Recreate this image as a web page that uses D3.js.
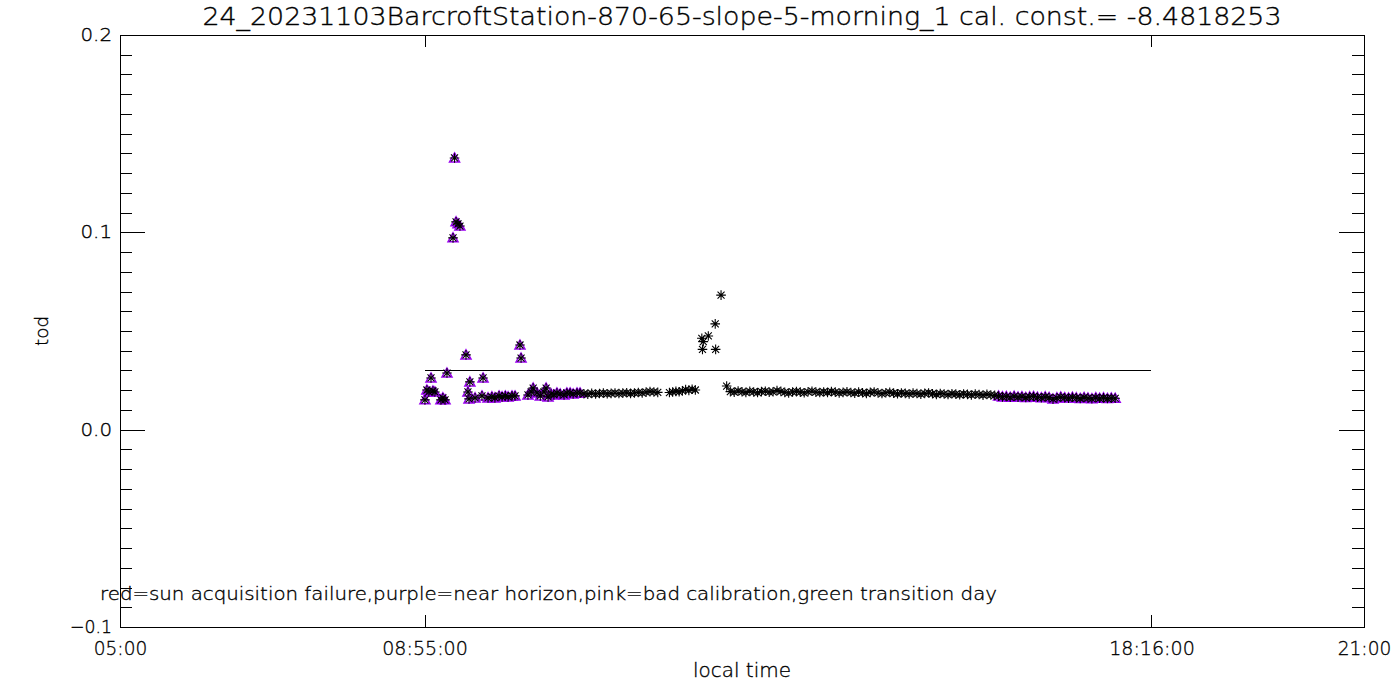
<!DOCTYPE html>
<html>
<head>
<meta charset="utf-8">
<script src="https://cdn.jsdelivr.net/npm/d3@7"></script>
<style>
body { margin: 0; background: #fff; }
text { font-family: "DejaVu Sans", sans-serif; font-weight: 200; fill: #000; stroke: #000; stroke-width: 0.35px; }
.tick line, .box { stroke: #000; shape-rendering: crispEdges; }
</style>
</head>
<body>
<script>
// plot window and labels
var title = "24_20231103BarcroftStation-870-65-slope-5-morning_1 cal. const.= -8.4818253";
var note = "red=sun acquisition failure,purple=near horizon,pink=bad calibration,green transition day";
var xDomain = ["05:00:00", "21:00:00"];
var xTicks = ["05:00:00", "08:55:00", "18:16:00", "21:00:00"];
var xTickLabels = ["05:00", "08:55:00", "18:16:00", "21:00"];
var yDomain = [-0.1, 0.2];
var yMajor = [-0.1, 0.0, 0.1, 0.2];
var yTickLabels = ["\u22120.1", "0.0", "0.1", "0.2"];
var limitTimes = ["08:55:00", "18:16:00"];
var limitValue = 0.03;

// near-horizon points in the morning (purple)
var morningTimes = ["08:55:20","08:56:50","08:58:20","09:00:00","09:01:30","09:03:00","09:07:40","09:09:10","09:10:50","09:12:20",
  "09:17:00","09:18:10","09:19:20","09:20:50","09:22:20","09:27:00","09:28:30","09:29:20","09:30:00","09:34:00",
  "09:39:20","09:40:10","09:44:00","09:47:00","09:49:20","09:52:30","09:54:50","09:57:20","09:59:30","10:02:30",
  "10:04:50","10:08:40","10:09:30","10:14:50","10:17:20","10:18:50","10:21:50","10:24:20","10:27:10","10:28:50",
  "10:30:20","10:32:40","10:34:50","10:37:10","10:39:40","10:42:40","10:44:50","10:47:20","10:49:40","10:52:40","10:55:00"];
var morningTod = [0.0151,0.0201,0.0191,0.0262,0.0196,0.0191,0.0151,0.0161,0.0151,0.0287,
  0.0972,0.1377,0.1053,0.1043,0.1032,0.0379,0.0191,0.0156,0.0242,0.0161,
  0.0171,0.0262,0.0161,0.0166,0.0161,0.0171,0.0166,0.0171,0.0166,0.0171,
  0.0171,0.0429,0.0363,0.0176,0.0191,0.0211,0.0186,0.0171,0.0191,0.0211,
  0.0166,0.0181,0.0176,0.0186,0.0181,0.0176,0.0186,0.0186,0.0181,0.0186,0.0186];

// midday points (black)
var dayTimes = ["10:58:00","11:01:00","11:04:00","11:07:00","11:10:00","11:13:00","11:16:00","11:19:00","11:22:00","11:25:00",
  "11:28:00","11:31:00","11:34:00","11:37:00","11:40:00","11:43:00","11:46:00","11:49:00","11:52:00","11:55:00",
  "12:04:00","12:06:30","12:09:00","12:11:30","12:14:00","12:16:30","12:19:00","12:21:30","12:24:00",
  "12:29:00","12:29:30","12:30:10","12:34:00","12:39:20","12:39:40","12:43:50","12:48:10",
  "12:51:00","12:54:00","12:57:00","13:00:00","13:03:00","13:06:00","13:09:00","13:12:00","13:15:00","13:18:00",
  "13:21:00","13:24:00","13:27:00","13:30:00","13:33:00","13:36:00","13:39:00","13:42:00","13:45:00","13:48:00",
  "13:51:00","13:54:00","13:57:00","14:00:00","14:03:00","14:06:00","14:09:00","14:12:00","14:15:00","14:18:00",
  "14:21:00","14:24:00","14:27:00","14:30:00","14:33:00","14:36:00","14:39:00","14:42:00","14:45:00","14:48:00",
  "14:51:00","14:54:00","14:57:00","15:00:00","15:03:00","15:06:00","15:09:00","15:12:00","15:15:00","15:18:00",
  "15:21:00","15:24:00","15:27:00","15:30:00","15:33:00","15:36:00","15:39:00","15:42:00","15:45:00","15:48:00",
  "15:51:00","15:54:00","15:57:00","16:00:00","16:03:00","16:06:00","16:09:00","16:12:00","16:15:00"];
var dayTod = [0.0182,0.0180,0.0184,0.0181,0.0183,0.0185,0.0182,0.0184,0.0186,0.0183,
  0.0185,0.0187,0.0184,0.0186,0.0188,0.0186,0.0190,0.0193,0.0191,0.0189,
  0.0188,0.0191,0.0194,0.0192,0.0197,0.0203,0.0199,0.0205,0.0201,
  0.0463,0.0407,0.0446,0.0475,0.0536,0.0407,0.0682,0.0221,
  0.0193,0.0190,0.0196,0.0192,0.0189,0.0194,0.0191,0.0188,0.0193,0.0195,
  0.0190,0.0192,0.0198,0.0194,0.0189,0.0186,0.0191,0.0193,0.0190,0.0187,
  0.0192,0.0195,0.0190,0.0188,0.0191,0.0189,0.0193,0.0190,0.0186,0.0189,
  0.0192,0.0188,0.0185,0.0190,0.0187,0.0184,0.0189,0.0191,0.0186,0.0183,
  0.0187,0.0189,0.0185,0.0182,0.0186,0.0184,0.0181,0.0185,0.0183,0.0180,
  0.0184,0.0186,0.0182,0.0179,0.0183,0.0181,0.0178,0.0182,0.0180,0.0177,
  0.0181,0.0179,0.0176,0.0180,0.0178,0.0175,0.0179,0.0176,0.0174];

// near-horizon points in the evening (purple)
var eveningTimes = ["16:18:00","16:21:00","16:24:00","16:27:00","16:30:00","16:33:00","16:36:00","16:39:00","16:42:00","16:45:00",
  "16:48:00","16:51:00","16:54:00","16:57:00","17:00:00","17:03:00","17:06:00","17:09:00","17:12:00","17:15:00",
  "17:18:00","17:21:00","17:24:00","17:27:00","17:30:00","17:33:00","17:36:00","17:39:00","17:42:00","17:45:00","17:48:00"];
var eveningTod = [0.0170,0.0166,0.0168,0.0164,0.0169,0.0165,0.0167,0.0163,0.0166,0.0168,
  0.0164,0.0162,0.0166,0.0163,0.0155,0.0161,0.0165,0.0162,0.0160,0.0164,
  0.0161,0.0158,0.0163,0.0160,0.0157,0.0162,0.0159,0.0161,0.0158,0.0160,0.0159];

var width = 1400,
    height = 700;
var margin = {left: 120, right: 36, top: 35, bottom: 73};
var purple = "#9a00f0";

var parseTime = d3.timeParse("%H:%M:%S");

var x = d3.scaleTime()
    .domain(xDomain.map(parseTime))
    .range([margin.left, width - margin.right]);

var y = d3.scaleLinear()
    .domain(yDomain)
    .range([height - margin.bottom, margin.top]);

var svg = d3.select("body").append("svg")
    .attr("width", width)
    .attr("height", height);

// minor and major y ticks, both sides, pointing inward
var yMinor = y.ticks(30);
svg.append("g")
    .attr("transform", "translate(" + margin.left + ",0)")
    .call(d3.axisLeft(y).tickValues(yMinor).tickSize(-12).tickFormat(""));
svg.append("g")
    .attr("transform", "translate(" + (width - margin.right) + ",0)")
    .call(d3.axisRight(y).tickValues(yMinor).tickSize(-12).tickFormat(""));
svg.append("g")
    .attr("class", "yMajor")
    .attr("transform", "translate(" + margin.left + ",0)")
    .call(d3.axisLeft(y).tickValues(yMajor).tickSize(-25).tickPadding(8)
        .tickFormat(function(d, i) { return yTickLabels[i]; }));
svg.append("g")
    .attr("transform", "translate(" + (width - margin.right) + ",0)")
    .call(d3.axisRight(y).tickValues(yMajor).tickSize(-25).tickFormat(""));

// x ticks, bottom with labels, top plain
svg.append("g")
    .attr("class", "xBottom")
    .attr("transform", "translate(0," + (height - margin.bottom) + ")")
    .call(d3.axisBottom(x).tickValues(xTicks.map(parseTime)).tickSize(-12).tickPadding(14)
        .tickFormat(function(d, i) { return xTickLabels[i]; }));
svg.append("g")
    .attr("transform", "translate(0," + margin.top + ")")
    .call(d3.axisTop(x).tickValues(xTicks.map(parseTime)).tickSize(-12).tickFormat(""));

svg.selectAll(".domain").remove();

svg.selectAll(".yMajor text")
    .attr("font-size", 18)
    .attr("font-family", null)
    .attr("dy", "0.3em")
    .attr("lengthAdjust", "spacingAndGlyphs")
    .attr("textLength", function(d, i) { return yTickLabels[i].length * 10.5; });

svg.selectAll(".xBottom text")
    .attr("font-size", 20)
    .attr("font-family", null)
    .attr("lengthAdjust", "spacingAndGlyphs")
    .attr("textLength", function(d, i) { return xTickLabels[i].length * 10.7; });

svg.append("rect")
    .attr("class", "box")
    .attr("x", margin.left)
    .attr("y", margin.top)
    .attr("width", width - margin.left - margin.right)
    .attr("height", height - margin.top - margin.bottom)
    .attr("fill", "none");

// threshold line
svg.append("line")
    .attr("x1", x(parseTime(limitTimes[0])))
    .attr("x2", x(parseTime(limitTimes[1])))
    .attr("y1", y(limitValue))
    .attr("y2", y(limitValue))
    .attr("stroke", "#000")
    .attr("shape-rendering", "crispEdges");

// IDL style asterisk (psym=2) and triangle (psym=5)
function asterisk() {
    var p = d3.path(), r = 4.8, q = 3.5;
    p.moveTo(-r, 0); p.lineTo(r, 0);
    p.moveTo(0, -r); p.lineTo(0, r);
    p.moveTo(-q, -q); p.lineTo(q, q);
    p.moveTo(-q, q); p.lineTo(q, -q);
    return p.toString();
}
function triangle() {
    var p = d3.path();
    p.moveTo(0, -5); p.lineTo(5, 4); p.lineTo(-5, 4); p.closePath();
    return p.toString();
}

var horizon = morningTimes.map(function(t, i) { return {t: parseTime(t), v: morningTod[i]}; })
    .concat(eveningTimes.map(function(t, i) { return {t: parseTime(t), v: eveningTod[i]}; }));
var all = horizon.concat(dayTimes.map(function(t, i) { return {t: parseTime(t), v: dayTod[i]}; }));

svg.append("g")
    .selectAll("path")
    .data(horizon)
    .enter().append("path")
    .attr("d", triangle())
    .attr("transform", function(d) { return "translate(" + x(d.t) + "," + y(d.v) + ")"; })
    .attr("fill", "none")
    .attr("stroke", purple)
    .attr("stroke-width", 1.5);

svg.append("g")
    .selectAll("path")
    .data(all)
    .enter().append("path")
    .attr("d", asterisk())
    .attr("transform", function(d) { return "translate(" + x(d.t) + "," + y(d.v) + ")"; })
    .attr("stroke", "#000")
    .attr("stroke-width", 1.1);

// texts
svg.append("text")
    .attr("x", (margin.left + width - margin.right) / 2)
    .attr("y", 25)
    .attr("text-anchor", "middle")
    .attr("font-size", 24)
    .attr("lengthAdjust", "spacingAndGlyphs")
    .attr("textLength", 1079)
    .text(title);

svg.append("text")
    .attr("x", 100)
    .attr("y", 600)
    .attr("font-size", 18)
    .attr("lengthAdjust", "spacingAndGlyphs")
    .attr("textLength", 897)
    .text(note);

svg.append("text")
    .attr("x", (margin.left + width - margin.right) / 2)
    .attr("y", 677)
    .attr("text-anchor", "middle")
    .attr("font-size", 20)
    .attr("lengthAdjust", "spacingAndGlyphs")
    .attr("textLength", 98)
    .text("local time");

svg.append("text")
    .attr("transform", "translate(48,331) rotate(-90)")
    .attr("text-anchor", "middle")
    .attr("font-size", 18)
    .attr("lengthAdjust", "spacingAndGlyphs")
    .attr("textLength", 30)
    .text("tod");
</script>
</body>
</html>
